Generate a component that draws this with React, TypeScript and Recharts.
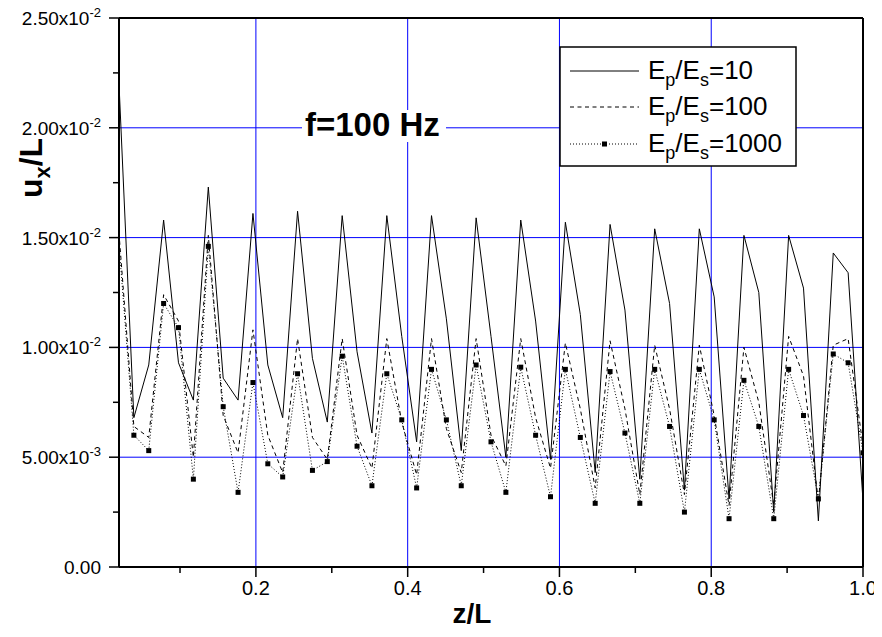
import React from "react";
import { LineChart, Line, XAxis, YAxis, CartesianGrid, ReferenceLine } from "recharts";

const FONT = "Arial, 'Liberation Sans', sans-serif";

// z/L sample positions
const zL = [
  0.0196, 0.0392, 0.0588, 0.0784, 0.098, 0.1176, 0.1373, 0.1569, 0.1765, 0.1961,
  0.2157, 0.2353, 0.2549, 0.2745, 0.2941, 0.3137, 0.3333, 0.3529, 0.3725, 0.3922,
  0.4118, 0.4314, 0.451, 0.4706, 0.4902, 0.5098, 0.5294, 0.549, 0.5686, 0.5882,
  0.6078, 0.6275, 0.6471, 0.6667, 0.6863, 0.7059, 0.7255, 0.7451, 0.7647, 0.7843,
  0.8039, 0.8235, 0.8431, 0.8627, 0.8824, 0.902, 0.9216, 0.9412, 0.9608, 0.9804, 1.0,
];

// u_x/L in units of 1e-2
const ep10 = [
  2.2, 0.68, 0.92, 1.58, 0.93, 0.76, 1.73, 0.86, 0.76, 1.61,
  0.92, 0.68, 1.62, 0.95, 0.66, 1.6, 0.98, 0.61, 1.6, 1.05,
  0.57, 1.6, 1.13, 0.53, 1.59, 1.05, 0.5, 1.58, 1.12, 0.49,
  1.57, 1.15, 0.43, 1.56, 1.17, 0.4, 1.54, 1.2, 0.35, 1.54,
  1.23, 0.31, 1.51, 1.25, 0.25, 1.51, 1.27, 0.21, 1.43, 1.34, 0.3,
];
const ep100 = [
  1.52, 0.64, 0.59, 1.24, 1.12, 0.5, 1.51, 0.69, 0.52, 1.08,
  0.6, 0.43, 1.04, 0.59, 0.49, 1.04, 0.6, 0.45, 1.04, 0.66,
  0.42, 1.04, 0.63, 0.43, 1.04, 0.6, 0.46, 1.04, 0.68, 0.45,
  1.02, 0.72, 0.36, 1.03, 0.72, 0.33, 1.01, 0.72, 0.33, 1.01,
  0.69, 0.28, 1.0, 0.75, 0.28, 1.05, 0.87, 0.3, 1.01, 1.04, 0.55,
];
const ep1000 = [
  1.47, 0.6, 0.53, 1.2, 1.09, 0.4, 1.46, 0.73, 0.34, 0.84,
  0.47, 0.41, 0.88, 0.44, 0.48, 0.96, 0.55, 0.37, 0.88, 0.67,
  0.36, 0.9, 0.67, 0.37, 0.92, 0.57, 0.34, 0.91, 0.6, 0.32,
  0.9, 0.59, 0.29, 0.89, 0.61, 0.29, 0.9, 0.64, 0.25, 0.9,
  0.67, 0.22, 0.85, 0.64, 0.22, 0.9, 0.69, 0.31, 0.97, 0.93, 0.52,
];

const xTicks = [0.1, 0.2, 0.3, 0.4, 0.5, 0.6, 0.7, 0.8, 0.9, 1.0];
const xLabels = [0.2, 0.4, 0.6, 0.8, 1.0];
const yTicks = [0, 0.0025, 0.005, 0.0075, 0.01, 0.0125, 0.015, 0.0175, 0.02, 0.0225, 0.025];
const yLabels = [0, 0.005, 0.01, 0.015, 0.02, 0.025];
const xGrid = [0.2, 0.4, 0.6, 0.8];
const yGrid = [0.005, 0.01, 0.015, 0.02];
const ratios = ["10", "100", "1000"];

const data = zL.map((z, i) => ({
  z,
  ep10: ep10[i] * 1e-2,
  ep100: ep100[i] * 1e-2,
  ep1000: ep1000[i] * 1e-2,
}));

const isIn = (list: number[], v: number) => list.some((l) => Math.abs(l - v) < 1e-9);

const XTick = (props: any) => {
  const { x, y, payload } = props;
  const major = isIn(xLabels, payload.value);
  return (
    <g>
      <line x1={x} x2={x} y1={y} y2={y + (major ? 10 : 6)} stroke="#000" strokeWidth={1.5} />
      {major && (
        <text x={x} y={y + 28} textAnchor="middle" fontSize={20} fontFamily={FONT} fill="#000">
          {payload.value.toFixed(1)}
        </text>
      )}
    </g>
  );
};

const YTick = (props: any) => {
  const { x, y, payload } = props;
  const v = payload.value;
  const major = isIn(yLabels, v);
  let label = null;
  if (major) {
    if (v === 0) {
      label = <tspan>0.00</tspan>;
    } else {
      const exp = Math.floor(Math.log10(v) + 1e-9);
      const man = (v / Math.pow(10, exp)).toFixed(2);
      label = (
        <>
          <tspan>{man}x10</tspan>
          <tspan dy={-8} fontSize={13}>{String(exp)}</tspan>
        </>
      );
    }
  }
  return (
    <g>
      <line x1={x} x2={x - (major ? 10 : 6)} y1={y} y2={y} stroke="#000" strokeWidth={1.5} />
      {label && (
        <text x={x - 18} y={y + 7} textAnchor="end" fontSize={19} fontFamily={FONT} fill="#000">
          {label}
        </text>
      )}
    </g>
  );
};

const SquareDot = (props: any) => {
  const { cx, cy, index } = props;
  if (index === 0) return <g key={`d${index}`} />;
  return <rect key={`d${index}`} x={cx - 2.5} y={cy - 2.5} width={5} height={5} fill="#000" />;
};

const LegendLabel = ({ x, y, ratio }: { x: number; y: number; ratio: string }) => (
  <text x={x} y={y} fontSize={26} fontFamily={FONT} fill="#000">
    <tspan>E</tspan>
    <tspan dy={7} fontSize={18}>p</tspan>
    <tspan dy={-7}>/E</tspan>
    <tspan dy={7} fontSize={18}>s</tspan>
    <tspan dy={-7}>={ratio}</tspan>
  </text>
);

const App = () => {
  const rows = [71, 107, 144];
  const dashes = ["", "4 3.5", "1 2"];
  return (
    <div style={{ position: "relative", width: 882, height: 637, margin: -8 }}>
      <LineChart width={882} height={637} data={data} margin={{ top: 18, right: 19, bottom: 0, left: 0 }}>
        <CartesianGrid stroke="#0000ff" strokeWidth={1} verticalValues={xGrid} horizontalValues={yGrid} />
        <XAxis
          dataKey="z"
          type="number"
          domain={[0.0196, 1.0]}
          ticks={xTicks}
          interval={0}
          height={70}
          tickSize={0}
          tickMargin={0}
          tickLine={false}
          axisLine={{ stroke: "#000", strokeWidth: 2 }}
          tick={<XTick />}
          allowDataOverflow
        />
        <YAxis
          type="number"
          domain={[0, 0.025]}
          ticks={yTicks}
          interval={0}
          width={119}
          tickSize={0}
          tickMargin={0}
          tickLine={false}
          axisLine={{ stroke: "#000", strokeWidth: 2 }}
          tick={<YTick />}
          allowDataOverflow
        />
        <ReferenceLine y={0.025} stroke="#000" strokeWidth={2} />
        <ReferenceLine x={1.0} stroke="#000" strokeWidth={2} />
        <Line type="linear" dataKey="ep10" stroke="#000" strokeWidth={1} dot={false} isAnimationActive={false} />
        <Line
          type="linear"
          dataKey="ep100"
          stroke="#000"
          strokeWidth={1}
          strokeDasharray="4 3.5"
          dot={false}
          isAnimationActive={false}
        />
        <Line
          type="linear"
          dataKey="ep1000"
          stroke="#000"
          strokeWidth={1}
          strokeDasharray="1 2"
          dot={SquareDot}
          isAnimationActive={false}
        />
      </LineChart>
      <svg
        width={882}
        height={637}
        style={{ position: "absolute", left: 0, top: 0, pointerEvents: "none" }}
      >
        {/* legend */}
        <rect x={560} y={47} width={236} height={119} fill="#fff" stroke="#000" strokeWidth={1.5} />
        {ratios.map((r, i) => (
          <g key={r}>
            <line
              x1={570}
              x2={639}
              y1={rows[i]}
              y2={rows[i]}
              stroke="#000"
              strokeWidth={1}
              strokeDasharray={dashes[i] || undefined}
            />
            {i === 2 && <rect x={602} y={rows[i] - 2.5} width={5} height={5} fill="#000" />}
            <LegendLabel x={648} y={rows[i] + 8} ratio={r} />
          </g>
        ))}
        {/* annotation */}
        <rect x={302} y={110} width={144} height={32} fill="#fff" />
        <text x={305} y={136} fontSize={33} fontWeight="bold" fontFamily={FONT} fill="#000">
          f=100 Hz
        </text>
        {/* axis titles */}
        <text x={472} y={623} textAnchor="middle" fontSize={28} fontWeight="bold" fontFamily={FONT} fill="#000">
          z/L
        </text>
        <text
          transform="translate(42,168) rotate(-90)"
          textAnchor="middle"
          fontSize={32}
          fontWeight="bold"
          fontFamily={FONT}
          fill="#000"
        >
          <tspan>u</tspan>
          <tspan dy={8} fontSize={22}>x</tspan>
          <tspan dy={-8}>/L</tspan>
        </text>
      </svg>
    </div>
  );
};

export default App;
